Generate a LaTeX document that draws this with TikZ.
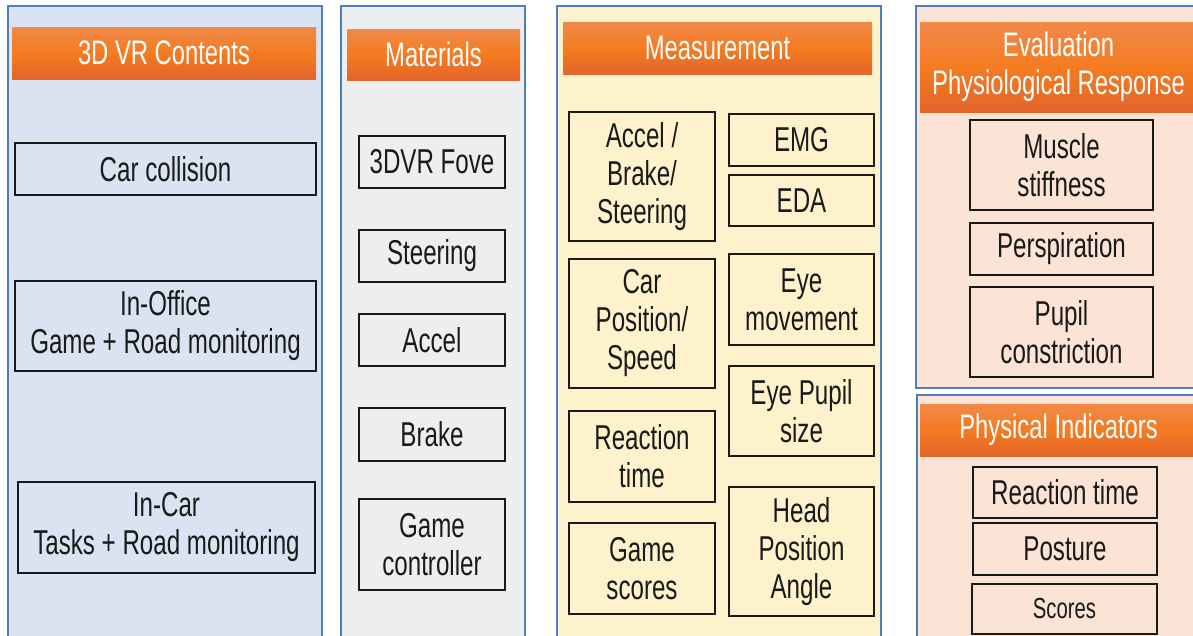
\documentclass[tikz,border=0pt]{standalone}
\usepackage{fontspec}
\setmainfont{Liberation Sans}[FakeStretch=0.7]
\definecolor{panelborder}{HTML}{4F7EBD}
\definecolor{pblue}{HTML}{DAE3F1}
\definecolor{pgray}{HTML}{EDEEEF}
\definecolor{pyellow}{HTML}{FEF2CD}
\definecolor{ppeach}{HTML}{FBE4D6}
\definecolor{orangetop}{HTML}{F08A4B}
\definecolor{orangemid}{HTML}{F47B20}
\definecolor{orangebot}{HTML}{E3652A}
\definecolor{boxtext}{HTML}{1A1A1A}
\begin{document}
\begin{tikzpicture}[x=1pt,y=-1pt,
  panel/.style={draw=panelborder, line width=1.3pt},
  header/.style={top color=orangetop, bottom color=orangebot, middle color=orangemid,
    draw=none, inner sep=0pt, align=center, text=white,
    font=\fontsize{34}{38}\selectfont},
  itembox/.style={draw=black!90, line width=1.3pt, inner sep=0pt, align=center,
    text=boxtext, font=\fontsize{34.5}{38}\selectfont},
  small/.style={font=\fontsize{29}{34}\selectfont}]
\useasboundingbox (0,0) rectangle (1193,635);
\fill[white] (0,0) rectangle (1193,635);
% panels
\path[panel, fill=pblue] (8,6) rectangle (322,660);
\path[panel, fill=pgray] (341,6) rectangle (525,660);
\path[panel, fill=pyellow] (557,6) rectangle (881,660);
\path[panel, fill=ppeach] (916,6) rectangle (1210,388);
\path[panel, fill=ppeach] (917,395) rectangle (1210,660);
% panel 1
\node[header, minimum width=304pt, minimum height=52pt] (h1) at (164,53) {3D VR Contents};
\node[itembox, minimum width=301pt, minimum height=52pt] (carcoll) at (165.5,169) {Car collision};
\node[itembox, minimum width=301pt, minimum height=90pt] (office) at (165.5,326) {In-Office\\Game + Road monitoring};
\node[itembox, minimum width=297pt, minimum height=91pt] (incar) at (166.5,527.5) {In-Car\\Tasks + Road monitoring};
% panel 2
\node[header, minimum width=173pt, minimum height=51pt] (h2) at (433.5,54.5) {Materials};
\node[itembox, minimum width=146pt, minimum height=52pt] (fove) at (432,162) {3DVR Fove};
\node[itembox, minimum width=146pt, minimum height=52pt] (steer) at (432,256) {Steering};
\node[itembox, minimum width=146pt, minimum height=52pt] (accel) at (432,340) {Accel};
\node[itembox, minimum width=146pt, minimum height=53pt] (brake) at (432,434.5) {Brake};
\node[itembox, minimum width=146pt, minimum height=91pt] (gamec) at (432,544.5) {Game\\controller};
% panel 3
\node[header, minimum width=309pt, minimum height=52pt] (h3) at (717.5,48) {Measurement};
\node[itembox, minimum width=146pt, minimum height=129pt] (abs) at (642,176.5) {Accel /\\Brake/\\Steering};
\node[itembox, minimum width=146pt, minimum height=129pt] (cps) at (642,323.5) {Car\\Position/\\Speed};
\node[itembox, minimum width=146pt, minimum height=91pt] (rt) at (642,456.5) {Reaction\\time};
\node[itembox, minimum width=146pt, minimum height=91pt] (gs) at (642,568.5) {Game\\scores};
\node[itembox, minimum width=145pt, minimum height=52pt] (emg) at (801.5,140) {EMG};
\node[itembox, minimum width=145pt, minimum height=51pt] (eda) at (801.5,200.5) {EDA};
\node[itembox, minimum width=145pt, minimum height=91pt] (eyem) at (801.5,299.5) {Eye\\movement};
\node[itembox, minimum width=145pt, minimum height=90pt] (eyep) at (801.5,411) {Eye Pupil\\size};
\node[itembox, minimum width=145pt, minimum height=129pt] (head) at (801.5,551.5) {Head\\Position\\Angle};
% panel 4
\node[header, minimum width=277pt, minimum height=90pt] (h4) at (1058.5,67) {Evaluation\\Physiological Response};
\node[itembox, minimum width=183pt, minimum height=90pt] (muscle) at (1061.5,165) {Muscle\\stiffness};
\node[itembox, minimum width=183pt, minimum height=52pt] (persp) at (1061.5,249) {Perspiration};
\node[itembox, minimum width=183pt, minimum height=90pt] (pupil) at (1061.5,332) {Pupil\\constriction};
% panel 5
\node[header, minimum width=277pt, minimum height=52pt] (h5) at (1058.5,430) {Physical Indicators};
\node[itembox, minimum width=184pt, minimum height=51pt] (rt2) at (1065,492.5) {Reaction time};
\node[itembox, minimum width=184pt, minimum height=52pt] (posture) at (1065,549) {Posture};
\node[itembox, small, minimum width=185pt, minimum height=50pt] (scores) at (1064.5,609) {Scores};
\end{tikzpicture}
\end{document}
